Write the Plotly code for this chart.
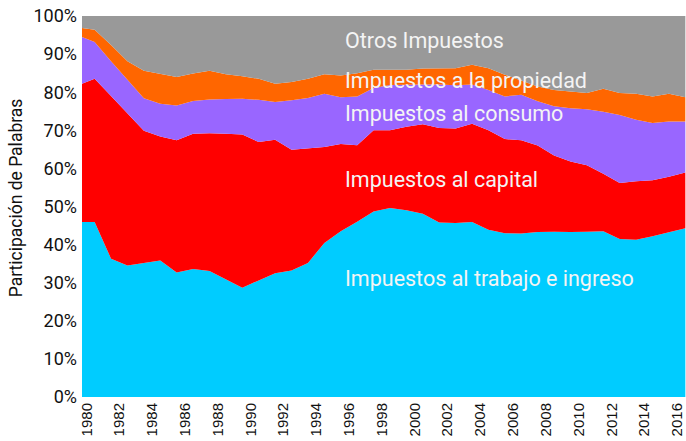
import plotly.graph_objects as go

years = list(range(1979, 2017))

trabajo = [45.9, 45.9, 36.3, 34.5, 35.2, 35.8, 32.7, 33.6, 33.1, 30.8, 28.7, 30.6, 32.5,
           33.2, 35.2, 40.4, 43.5, 46.0, 48.7, 49.6, 49.0, 48.1, 45.8, 45.7, 45.9, 43.9,
           43.0, 42.9, 43.3, 43.4, 43.3, 43.4, 43.5, 41.5, 41.3, 42.2, 43.2, 44.3]
capital = [35.9, 37.6, 42.7, 39.9, 34.7, 32.6, 34.7, 35.5, 36.1, 38.3, 40.2, 36.3, 35.0,
           31.7, 30.1, 25.2, 22.9, 20.1, 21.3, 20.4, 21.9, 23.5, 24.8, 24.8, 25.8, 26.1,
           24.7, 24.5, 22.7, 20.0, 18.5, 17.4, 15.1, 14.7, 15.3, 14.7, 14.6, 14.6]
consumo = [13.1, 9.7, 9.1, 8.9, 8.5, 8.6, 9.1, 8.6, 8.9, 9.1, 9.4, 11.1, 9.9,
           13.0, 13.2, 14.0, 12.3, 12.8, 11.1, 11.9, 11.1, 10.4, 11.4, 11.3, 10.3, 10.6,
           11.2, 11.9, 11.6, 12.9, 14.0, 14.7, 16.3, 17.8, 16.2, 15.0, 14.5, 13.4]
propiedad = [2.1, 3.2, 4.3, 4.8, 7.2, 7.7, 7.5, 7.2, 7.5, 6.5, 5.9, 5.5, 4.8,
             4.8, 5.0, 5.1, 5.7, 6.1, 4.8, 4.0, 3.9, 4.2, 4.2, 4.5, 5.2, 5.7,
             5.7, 3.7, 3.9, 4.3, 4.4, 4.3, 6.0, 5.8, 6.8, 7.0, 7.3, 6.4]
otros = [3.0, 3.6, 7.6, 11.9, 14.4, 15.3, 16.0, 15.1, 14.4, 15.3, 15.8, 16.5, 17.8,
         17.3, 16.5, 15.3, 15.6, 15.0, 14.1, 14.1, 14.1, 13.8, 13.8, 13.7, 12.8, 13.7,
         15.4, 17.0, 18.5, 19.4, 19.8, 20.2, 19.1, 20.2, 20.4, 21.1, 20.4, 21.3]

series_names = ["Impuestos al trabajo e ingreso", "Impuestos al capital",
                "Impuestos al consumo", "Impuestos a la propiedad", "Otros Impuestos"]
series_values = [trabajo, capital, consumo, propiedad, otros]
series_colors = ["#00CCFF", "#FF0000", "#9966FF", "#FF6600", "#999999"]
label_y = [31.0, 57.0, 74.5, 83.2, 93.5]

tick_years = list(range(1980, 2017, 2))
tick_year_labels = [str(y) for y in tick_years]
y_ticks = list(range(0, 101, 10))
y_tick_labels = [f"{v}%" for v in y_ticks]
y_title = "Participación de Palabras"

LABEL_FONT = "Roboto, 'Liberation Sans', Arial, sans-serif"
TICK_FONT = "'Liberation Sans', Arial, sans-serif"

fig = go.Figure()
for name, vals, col in zip(series_names, series_values, series_colors):
    fig.add_trace(go.Scatter(
        x=years, y=vals, name=name, mode="lines", stackgroup="one",
        line=dict(width=0, color=col), fillcolor=col, hoverinfo="x+y+name"))

for name, yv in zip(series_names, label_y):
    fig.add_annotation(x=0.432, xref="paper", y=yv, yref="y", text=name,
                       showarrow=False, xanchor="left", yanchor="middle",
                       font=dict(family=LABEL_FONT, size=21.5, color="#F4F4F4"))

fig.add_annotation(x=-0.11, xref="paper", y=0.523, yref="paper", text=y_title,
                   textangle=-90, showarrow=False, xanchor="center", yanchor="middle",
                   font=dict(family=LABEL_FONT, size=17.5, color="#111111"))

fig.update_layout(
    width=686, height=441,
    margin=dict(l=82, r=0, t=16, b=44, autoexpand=False),
    paper_bgcolor="white", plot_bgcolor="white",
    showlegend=False,
    xaxis=dict(range=[1979.23, 2016.04], tickmode="array", tickvals=tick_years,
               ticktext=tick_year_labels, tickangle=-90,
               showgrid=False, zeroline=False, showline=False, ticks="",
               tickfont=dict(family=TICK_FONT, size=15, color="#111111"),
               ticklabelshift=-8, ticklabelstandoff=2, ticklabeloverflow="allow",
               automargin=False),
    yaxis=dict(range=[0, 100], tickmode="array", tickvals=y_ticks,
               ticktext=y_tick_labels,
               showgrid=False, zeroline=False, showline=False, ticks="",
               tickfont=dict(family=LABEL_FONT, size=18, color="#111111"),
               ticklabelstandoff=4, automargin=False),
)

fig.write_html("out.html",
               config={"displayModeBar": False},
               post_script="document.body.style.margin='0';document.body.style.padding='0';")
